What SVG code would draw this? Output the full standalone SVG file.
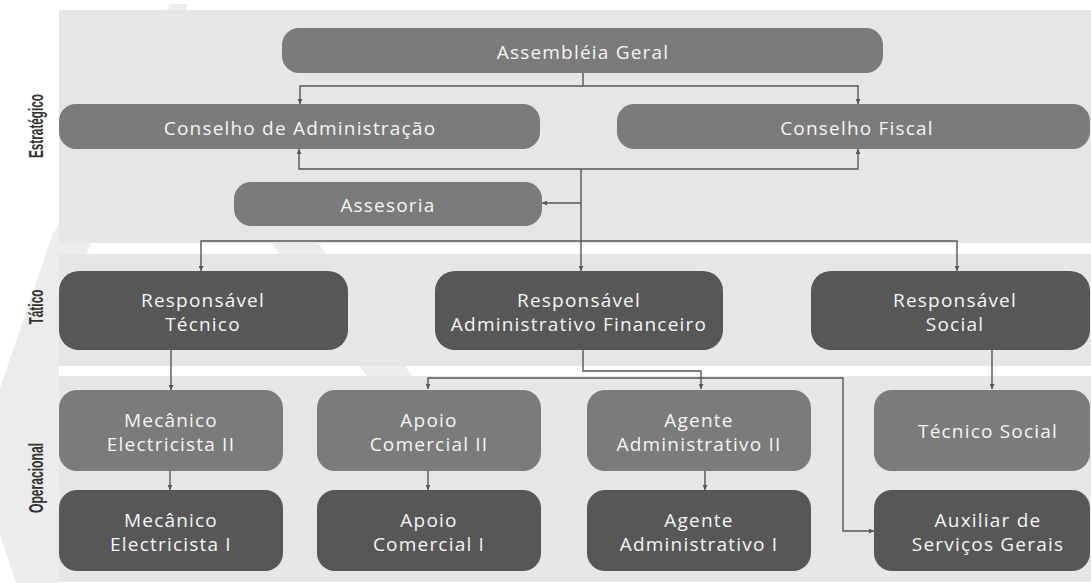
<svg xmlns="http://www.w3.org/2000/svg" width="1091" height="583" viewBox="0 0 1091 583">
<defs>
<style>
.band{fill:#e6e6e6}
.wm{fill:#ececec}
.mid{fill:#7b7b7b}
.dark{fill:#575757}
.t{font-family:"Open Sans","Noto Sans","DejaVu Sans",sans-serif;font-size:19px;font-weight:500;letter-spacing:1.2px;fill:#f5f5f5;text-anchor:middle}
.lbl{font-family:"Liberation Sans",Arial,sans-serif;font-weight:bold;font-size:20px;fill:#333;text-anchor:middle}
.c{fill:none;stroke:#555;stroke-width:1.4}
</style>
<marker id="ah" viewBox="0 0 6 6" refX="6" refY="3" markerWidth="5" markerHeight="5" markerUnits="userSpaceOnUse" orient="auto"><path d="M0,0L6,3L0,6z" fill="#555"/></marker>
</defs>
<rect width="1091" height="583" fill="#fff"/>
<g id="watermark">
<polygon class="wm" points="170,4 188,4 59,322 59,583 16,583 0,535 0,388 52,236"/>
<polygon class="wm" points="241,200 288,200 422,390 377,390"/>
</g>
<g id="bands">
<rect class="band" x="59" y="10" width="1032" height="233"/>
<rect class="band" x="59" y="254" width="1032" height="112"/>
<rect class="band" x="59" y="376" width="1032" height="206"/>
<text class="lbl" transform="translate(43,126) rotate(-90)" textLength="64" lengthAdjust="spacingAndGlyphs">Estratégico</text>
<text class="lbl" transform="translate(43,307) rotate(-90)" textLength="35" lengthAdjust="spacingAndGlyphs">Tático</text>
<text class="lbl" transform="translate(43,478) rotate(-90)" textLength="70" lengthAdjust="spacingAndGlyphs">Operacional</text>
</g>
<g id="connectors">
<path class="c" d="M583,73V86"/>
<path class="c" marker-end="url(#ah)" d="M583,86H300V104"/>
<path class="c" marker-end="url(#ah)" d="M583,86H858V104"/>
<path class="c" marker-end="url(#ah)" d="M581,169H299V149"/>
<path class="c" marker-end="url(#ah)" d="M581,169H858V149"/>
<path class="c" marker-end="url(#ah)" d="M581,169V271"/>
<path class="c" marker-end="url(#ah)" d="M581,203H542"/>
<path class="c" marker-end="url(#ah)" d="M581,241H201V271"/>
<path class="c" marker-end="url(#ah)" d="M581,241H957V271"/>
<path class="c" marker-end="url(#ah)" d="M171,350V390"/>
<path class="c" marker-end="url(#ah)" d="M170,471V490"/>
<path class="c" marker-end="url(#ah)" d="M428,471V490"/>
<path class="c" marker-end="url(#ah)" d="M583,350V371H701V389"/>
<path class="c" marker-end="url(#ah)" d="M583,378H428V389"/>
<path class="c" marker-end="url(#ah)" d="M583,378H843V531H874"/>
<path class="c" marker-end="url(#ah)" d="M705,471V490"/>
<path class="c" marker-end="url(#ah)" d="M992,350V389"/>
</g>
<g id="n-assembleia"><rect class="mid" x="282" y="28" width="601" height="45" rx="17"/><text class="t" x="583" y="58.5">Assembléia Geral</text></g>
<g id="n-conselho-adm"><rect class="mid" x="59" y="104" width="481" height="45" rx="17"/><text class="t" x="300" y="134.5">Conselho de Administração</text></g>
<g id="n-conselho-fiscal"><rect class="mid" x="617" y="104" width="473" height="45" rx="17"/><text class="t" x="857" y="134.5">Conselho Fiscal</text></g>
<g id="n-assesoria"><rect class="mid" x="234" y="182" width="308" height="44" rx="17"/><text class="t" x="388" y="212">Assesoria</text></g>
<g id="n-resp-tecnico"><rect class="dark" x="59" y="271" width="289" height="79" rx="20"/><text class="t" x="203" y="306.5">Responsável</text><text class="t" x="203" y="330.5">Técnico</text></g>
<g id="n-resp-adm"><rect class="dark" x="435" y="271" width="288" height="79" rx="20"/><text class="t" x="579" y="306.5">Responsável</text><text class="t" x="579" y="330.5">Administrativo Financeiro</text></g>
<g id="n-resp-social"><rect class="dark" x="811" y="271" width="279" height="79" rx="20"/><text class="t" x="955" y="306.5">Responsável</text><text class="t" x="955" y="330.5">Social</text></g>
<g id="n-mec2"><rect class="mid" x="59" y="390" width="224" height="81" rx="18"/><text class="t" x="171" y="426.5">Mecânico</text><text class="t" x="171" y="450.5">Electricista II</text></g>
<g id="n-apoio2"><rect class="mid" x="317" y="390" width="224" height="81" rx="18"/><text class="t" x="429" y="426.5">Apoio</text><text class="t" x="429" y="450.5">Comercial II</text></g>
<g id="n-agente2"><rect class="mid" x="587" y="390" width="224" height="81" rx="18"/><text class="t" x="699" y="426.5">Agente</text><text class="t" x="699" y="450.5">Administrativo II</text></g>
<g id="n-tecnico-social"><rect class="mid" x="874" y="390" width="216" height="81" rx="18"/><text class="t" x="988" y="438">Técnico Social</text></g>
<g id="n-mec1"><rect class="dark" x="59" y="490" width="224" height="81" rx="18"/><text class="t" x="171" y="526.5">Mecânico</text><text class="t" x="171" y="550.5">Electricista I</text></g>
<g id="n-apoio1"><rect class="dark" x="317" y="490" width="224" height="81" rx="18"/><text class="t" x="429" y="526.5">Apoio</text><text class="t" x="429" y="550.5">Comercial I</text></g>
<g id="n-agente1"><rect class="dark" x="587" y="490" width="224" height="81" rx="18"/><text class="t" x="699" y="526.5">Agente</text><text class="t" x="699" y="550.5">Administrativo I</text></g>
<g id="n-auxiliar"><rect class="dark" x="874" y="490" width="216" height="81" rx="18"/><text class="t" x="988" y="526.5">Auxiliar de</text><text class="t" x="988" y="550.5">Serviços Gerais</text></g>
</svg>
